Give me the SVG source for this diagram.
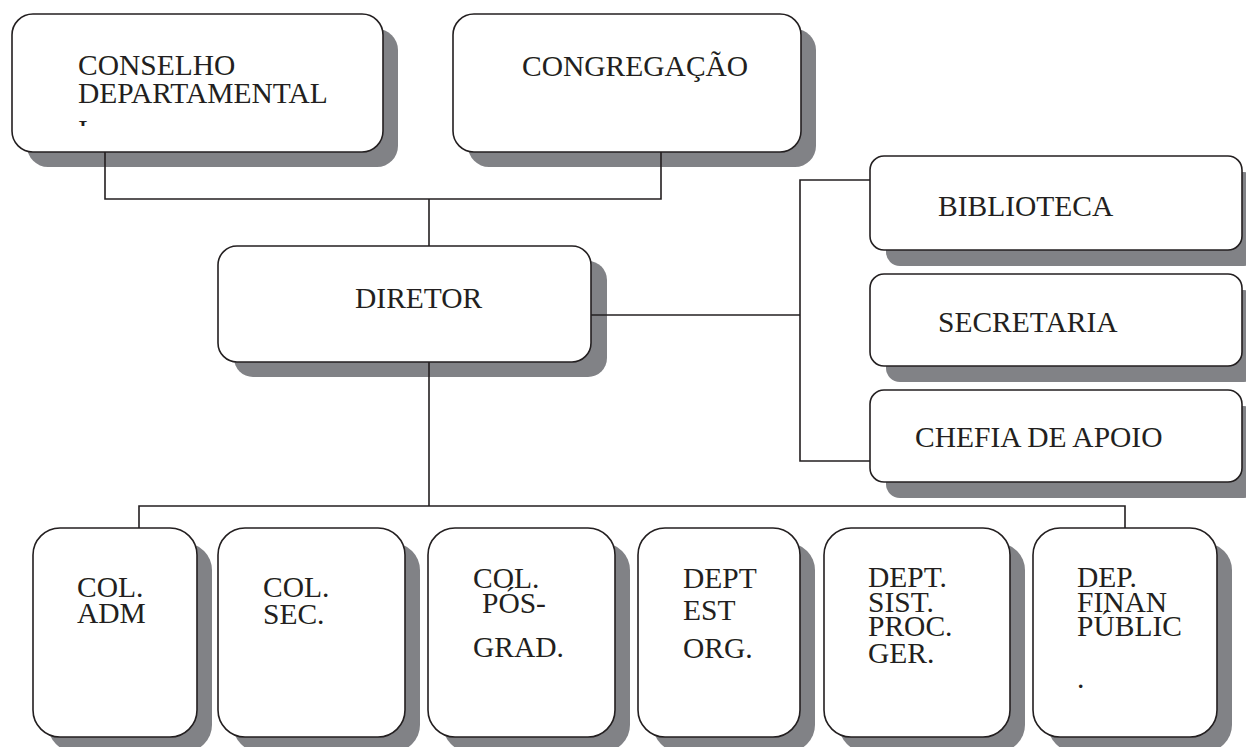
<svg xmlns="http://www.w3.org/2000/svg" width="1246" height="747" viewBox="0 0 1246 747">
<style>
.sh{fill:#818286;stroke:none}
.bx{fill:#ffffff;stroke:#231f20;stroke-width:1.6}
.t{font-family:"Liberation Serif","Times New Roman",serif;font-size:29.5px;fill:#231f20}
.ln{fill:none;stroke:#231f20;stroke-width:1.6}
</style>
<defs>
<clipPath id="clipTop"><rect x="0" y="0" width="400" height="126"/></clipPath>
</defs>
<rect width="1246" height="747" fill="#ffffff"/>

<g id="conselho">
<rect class="sh" x="27" y="29" width="371" height="138" rx="21"/>
<rect class="bx" x="12" y="14" width="371" height="138" rx="21"/>
<text class="t" x="78" y="75">CONSELHO</text>
<text class="t" x="78" y="103">DEPARTAMENTAL</text>
<text class="t" x="78" y="140" clip-path="url(#clipTop)">I</text>
</g>

<g id="congregacao">
<rect class="sh" x="468" y="29" width="348" height="138" rx="21"/>
<rect class="bx" x="453" y="14" width="348" height="138" rx="21"/>
<text class="t" x="522" y="76">CONGREGAÇÃO</text>
</g>

<g id="diretor">
<rect class="sh" x="234" y="261" width="373" height="116" rx="19"/>
<rect class="bx" x="218" y="246" width="373" height="116" rx="19"/>
<text class="t" x="355" y="308">DIRETOR</text>
</g>

<g id="biblioteca">
<rect class="sh" x="886" y="172" width="372" height="94" rx="14"/>
<rect class="bx" x="870" y="156" width="372" height="94" rx="14"/>
<text class="t" x="938" y="216">BIBLIOTECA</text>
</g>

<g id="secretaria">
<rect class="sh" x="886" y="290" width="372" height="92" rx="14"/>
<rect class="bx" x="870" y="274" width="372" height="92" rx="14"/>
<text class="t" x="938" y="332">SECRETARIA</text>
</g>

<g id="chefia">
<rect class="sh" x="886" y="406" width="372" height="92" rx="14"/>
<rect class="bx" x="870" y="390" width="372" height="92" rx="14"/>
<text class="t" x="915" y="447">CHEFIA DE APOIO</text>
</g>

<g id="col-adm">
<rect class="sh" x="48" y="543" width="164" height="209" rx="27"/>
<rect class="bx" x="33" y="528" width="164" height="209" rx="27"/>
<text class="t" x="77" y="597">COL.</text>
<text class="t" x="77" y="623">ADM</text>
</g>

<g id="col-sec">
<rect class="sh" x="233" y="543" width="187" height="209" rx="27"/>
<rect class="bx" x="218" y="528" width="187" height="209" rx="27"/>
<text class="t" x="263" y="597">COL.</text>
<text class="t" x="263" y="624">SEC.</text>
</g>

<g id="col-pos">
<rect class="sh" x="443" y="543" width="187" height="209" rx="27"/>
<rect class="bx" x="428" y="528" width="187" height="209" rx="27"/>
<text class="t" x="473" y="588">COL.</text>
<text class="t" x="482" y="613">PÓS-</text>
<text class="t" x="473" y="657">GRAD.</text>
</g>

<g id="dept-est">
<rect class="sh" x="653" y="543" width="162" height="209" rx="27"/>
<rect class="bx" x="638" y="528" width="162" height="209" rx="27"/>
<text class="t" x="683" y="588">DEPT</text>
<text class="t" x="683" y="620">EST</text>
<text class="t" x="683" y="658">ORG.</text>
</g>

<g id="dept-sist">
<rect class="sh" x="839" y="543" width="186" height="209" rx="27"/>
<rect class="bx" x="824" y="528" width="186" height="209" rx="27"/>
<text class="t" x="868" y="587">DEPT.</text>
<text class="t" x="868" y="612">SIST.</text>
<text class="t" x="868" y="636">PROC.</text>
<text class="t" x="868" y="663">GER.</text>
</g>

<g id="dep-finan">
<rect class="sh" x="1048" y="543" width="184" height="209" rx="27"/>
<rect class="bx" x="1033" y="528" width="184" height="209" rx="27"/>
<text class="t" x="1077" y="587">DEP.</text>
<text class="t" x="1077" y="612">FINAN</text>
<text class="t" x="1077" y="636">PÚBLIC</text>
<text class="t" x="1077" y="688">.</text>
</g>

<g id="connectors">
<polyline class="ln" points="105,152 105,199 661,199 661,152"/>
<line class="ln" x1="429" y1="199" x2="429" y2="246"/>
<line class="ln" x1="591" y1="315" x2="800" y2="315"/>
<polyline class="ln" points="870,180 800,180 800,461 870,461"/>
<line class="ln" x1="429" y1="362" x2="429" y2="506"/>
<polyline class="ln" points="139,528 139,506 1125,506 1125,528"/>
</g>
</svg>
